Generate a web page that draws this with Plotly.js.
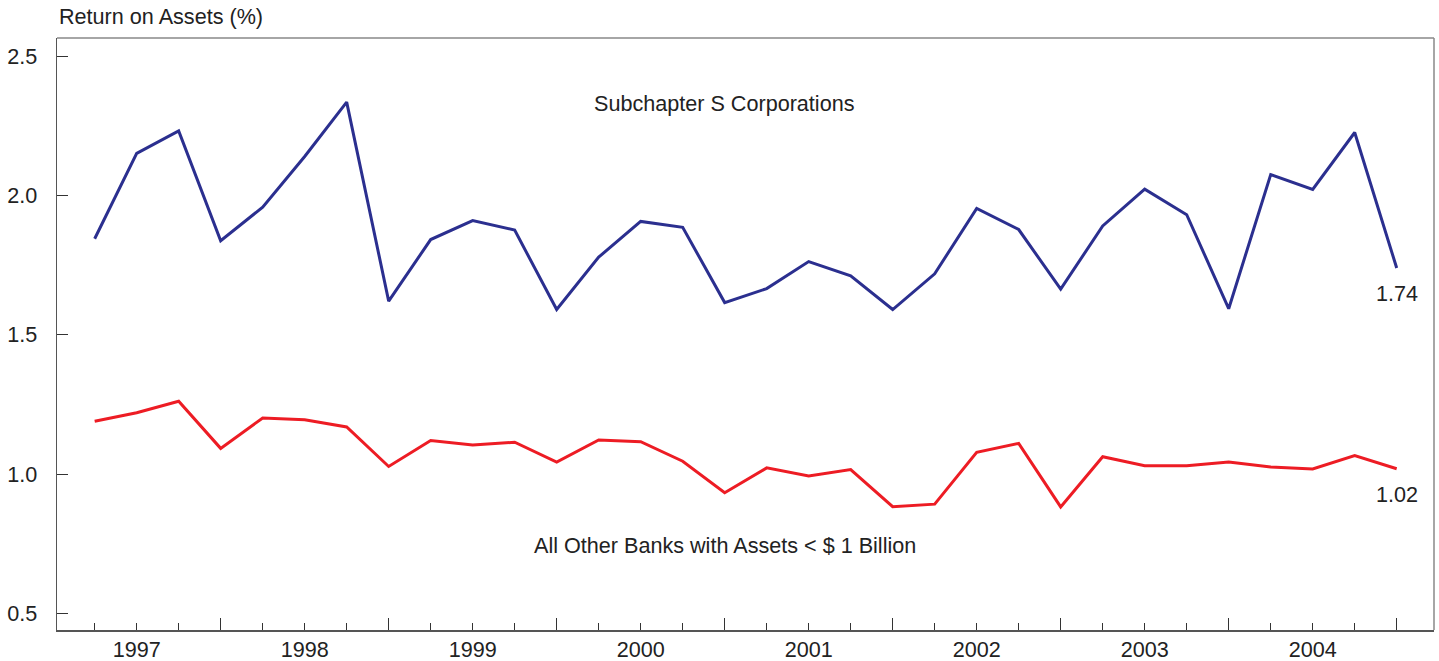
<!DOCTYPE html>
<html>
<head>
<meta charset="utf-8">
<script src="https://cdn.plot.ly/plotly-3.0.1.min.js"></script>
<style>html,body{margin:0;padding:0;background:#fff;}#chart{width:1439px;height:661px;}</style>
</head>
<body>
<div id="chart"></div>
<script>
const years = ["1997","1998","1999","2000","2001","2002","2003","2004"];
const quarters = [];
years.forEach(y => ["Q1","Q2","Q3","Q4"].forEach(q => quarters.push(y + " " + q)));

const subchapterS = [1.845,2.151,2.232,1.838,1.958,2.140,2.335,1.621,
                     1.842,1.910,1.876,1.591,1.779,1.907,1.886,1.616,
                     1.666,1.763,1.712,1.591,1.719,1.954,1.878,1.664,
                     1.891,2.023,1.931,1.594,2.075,2.022,2.226,1.74];
const otherBanks = [1.190,1.221,1.262,1.093,1.202,1.196,1.170,1.028,
                    1.121,1.105,1.115,1.044,1.123,1.117,1.047,0.934,
                    1.023,0.994,1.017,0.884,0.893,1.079,1.111,0.883,
                    1.063,1.031,1.031,1.044,1.026,1.019,1.067,1.02];
const yTicks = [0.5,1.0,1.5,2.0,2.5];

const labelText = quarters.map(q => q.endsWith("Q2") ? q.slice(0,4) : "");
const q4Idx = quarters.map((q,i)=> q.endsWith("Q4") ? i : null).filter(v=>v!==null);

const FONT = "Liberation Sans, Arial, Helvetica, sans-serif";
const FS = 21.6;
const TXT = "#222222";
const AX = "#555555";
const xr = [-0.897, 31.888];

const traces = [
  {x: quarters, y: subchapterS, type: "scatter", mode: "lines",
   line: {color: "#2b2f8f", width: 3}, hoverinfo: "skip"},
  {x: quarters, y: otherBanks, type: "scatter", mode: "lines",
   line: {color: "#ed1c24", width: 3}, hoverinfo: "skip"}
];

const last = quarters.length - 1;
const layout = {
  width: 1439, height: 661,
  margin: {l: 57, r: 5, t: 38, b: 31},
  paper_bgcolor: "#fff", plot_bgcolor: "#fff",
  showlegend: false,
  font: {family: FONT, size: FS, color: TXT},
  xaxis: {
    type: "category", categoryorder: "array", categoryarray: quarters,
    range: xr, tickmode: "array", tickvals: quarters, ticktext: labelText,
    ticks: "inside", ticklen: 7, tickwidth: 1, tickcolor: "#333",
    showline: true, linecolor: AX, linewidth: 1.5,
    showgrid: false, zeroline: false, ticklabelstandoff: 0,
    tickfont: {family: FONT, size: FS, color: TXT}
  },
  xaxis2: {
    overlaying: "x", anchor: "y", side: "bottom", type: "linear",
    range: xr, tickmode: "array", tickvals: q4Idx,
    ticks: "inside", ticklen: 12, tickwidth: 1, tickcolor: "#333",
    showticklabels: false, showline: false, showgrid: false, zeroline: false
  },
  yaxis: {
    range: [0.4415, 2.565], tickmode: "array", tickvals: yTicks,
    tickformat: ".1f",
    ticks: "inside", ticklen: 11, tickwidth: 1, tickcolor: "#333",
    showline: true, linecolor: AX, linewidth: 1.5,
    showgrid: false, zeroline: false, ticklabelstandoff: 14,
    tickfont: {family: FONT, size: FS, color: TXT}
  },
  shapes: [
    {type: "line", xref: "paper", yref: "paper", x0: 0, x1: 1, y0: 1, y1: 1,
     line: {color: "#888", width: 1.5}},
    {type: "line", xref: "paper", yref: "paper", x0: 1, x1: 1, y0: 0, y1: 1,
     line: {color: "#888", width: 1.5}}
  ],
  annotations: [
    {text: "Return on Assets (%)", xref: "paper", yref: "paper", x: 0, y: 1,
     xanchor: "left", yanchor: "bottom", yshift: 7, showarrow: false,
     font: {family: FONT, size: FS, color: TXT}},
    {text: "Subchapter S Corporations", xref: "x", yref: "y", x: 15, y: 2.33,
     showarrow: false, font: {family: FONT, size: FS, color: TXT}},
    {text: "All Other Banks with Assets < $ 1 Billion", xref: "x", yref: "y", x: 15, y: 0.745,
     showarrow: false, font: {family: FONT, size: FS, color: TXT}},
    {text: subchapterS[last].toFixed(2), xref: "x", yref: "y", x: last, y: 1.648,
     showarrow: false, font: {family: FONT, size: FS, color: TXT}},
    {text: otherBanks[last].toFixed(2), xref: "x", yref: "y", x: last, y: 0.928,
     showarrow: false, font: {family: FONT, size: FS, color: TXT}}
  ]
};

traces.push({x: [0], y: [null], xaxis: "x2", yaxis: "y", type: "scatter", mode: "lines",
             hoverinfo: "skip", showlegend: false});

Plotly.newPlot("chart", traces, layout, {staticPlot: true, displayModeBar: false});
</script>
</body>
</html>
